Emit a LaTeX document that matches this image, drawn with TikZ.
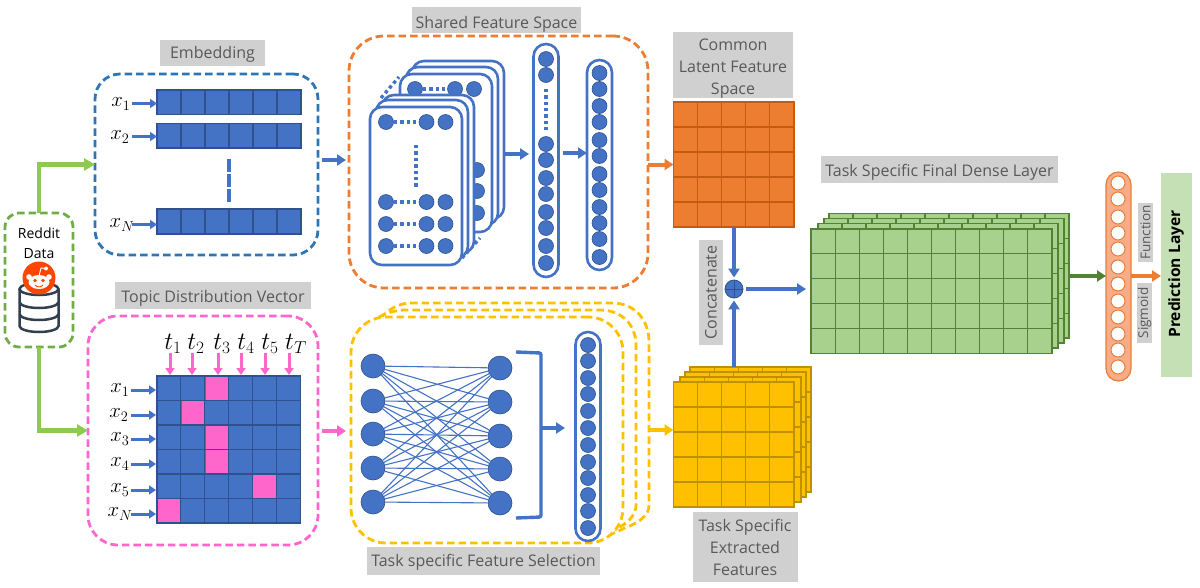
\documentclass[tikz,border=0pt]{standalone}
\usepackage{fontspec}
\setmainfont{Open Sans}
\usetikzlibrary{arrows.meta,calc}
\definecolor{blockblue}{HTML}{4472C4}
\definecolor{blockline}{HTML}{2F528F}
\definecolor{panelblue}{HTML}{2E75B6}
\definecolor{panelpink}{HTML}{FF66CC}
\definecolor{panelgreen}{HTML}{70AD47}
\definecolor{linkgreen}{HTML}{8CCB4F}
\definecolor{darkgreen}{HTML}{548235}
\definecolor{sheetgreen}{HTML}{A9D18E}
\definecolor{predgreen}{HTML}{C5E0B4}
\definecolor{sheetorange}{HTML}{ED7D31}
\definecolor{lineorange}{HTML}{C55A11}
\definecolor{pillorange}{HTML}{F7AD8A}
\definecolor{sheetyellow}{HTML}{FFC000}
\definecolor{lineyellow}{HTML}{BF9000}
\definecolor{taggray}{HTML}{D0D0D0}
\definecolor{tagtext}{HTML}{595959}
\definecolor{dbdark}{HTML}{333F50}
\definecolor{redditred}{HTML}{FF4500}
\tikzset{
  tag/.style={fill=taggray, text=tagtext, inner sep=0pt, align=center, font=\fontsize{16}{22}\selectfont},
  panel/.style={draw=#1, line width=2.8pt, dash pattern=on 7.5pt off 4pt, inner sep=0pt, outer sep=0pt},
  linkarrow/.style={draw=#1, line width=4.5pt, -{Triangle[length=11pt,width=12pt]}},
  midarrow/.style={draw=#1, line width=4pt, -{Triangle[length=9pt,width=11pt]}},
  smallarrow/.style={draw=#1, line width=3pt, -{Triangle[length=7pt,width=9pt]}},
  mathlabel/.style={inner sep=0pt, font=\fontsize{22}{24}\selectfont},
  pill/.style={draw=blockblue, fill=white, line width=2.6pt, rounded corners=12.5pt, minimum width=25pt, inner sep=0pt, outer sep=0pt},
  unit/.style={circle, fill=blockblue, draw=blockline, line width=0.6pt, minimum size=15pt, inner sep=0pt},
  bigunit/.style={circle, fill=blockblue, draw=blockline, line width=0.6pt, minimum size=24pt, inner sep=0pt},
  sigunit/.style={circle, fill=white, draw=sheetorange, line width=1pt, minimum size=14pt, inner sep=0pt},
  featcard/.style={draw=blockblue, fill=white, line width=2.6pt, rounded corners=12pt, minimum width=92pt, minimum height=158pt, anchor=north west, inner sep=0pt, outer sep=0pt},
  dotline/.style={draw=blockblue, line width=3.4pt, dash pattern=on 3.4pt off 3pt},
  bluegrid/.style={fill=blockblue, draw=blockline, line width=1.1pt},
  orangegrid/.style={fill=sheetorange, draw=lineorange, line width=1.1pt},
  yellowgrid/.style={fill=sheetyellow, draw=lineyellow, line width=1.1pt},
  greengrid/.style={fill=sheetgreen, draw=darkgreen, line width=1.1pt},
}
% name, left, top, width, height, columns, rows, style
\newcommand{\gridblock}[8]{
  \node[#8, anchor=north west, minimum width=#4pt, minimum height=#5pt, inner sep=0pt, outer sep=0pt] (#1) at (#2,#3) {};
  \pgfmathtruncatemacro{\nc}{#6-1}
  \pgfmathtruncatemacro{\nr}{#7-1}
  \foreach \k in {1,...,\nc}
    \draw[#8] ($(#1.north west)!\k/#6!(#1.north east)$) -- ($(#1.south west)!\k/#6!(#1.south east)$);
  \ifnum#7>1
  \foreach \k in {1,...,\nr}
    \draw[#8] ($(#1.north west)!\k/#7!(#1.south west)$) -- ($(#1.north east)!\k/#7!(#1.south east)$);
  \fi
}
\begin{document}
\begin{tikzpicture}[x=1pt,y=-1pt]
\useasboundingbox (0,0) rectangle (1200,587);

% reddit data
\node[panel=panelgreen, rounded corners=14pt, minimum width=68pt, minimum height=134pt] (reddit) at (39,280) {};
\node[inner sep=0pt, font=\fontsize{14}{19.5}\selectfont, align=center] (reddittext) at (39,243) {Reddit\\Data};
\draw[dbdark, line width=2.5pt] (39,289) ellipse [x radius=19.5pt, y radius=6pt];
\draw[dbdark, line width=2.5pt] (19.5,289) -- (19.5,326) arc[start angle=180, end angle=360, x radius=19.5pt, y radius=6pt] -- (58.5,289);
\draw[dbdark, line width=2.5pt] (19.5,302) arc[start angle=180, end angle=360, x radius=19.5pt, y radius=6pt];
\draw[dbdark, line width=2.5pt] (19.5,314) arc[start angle=180, end angle=360, x radius=19.5pt, y radius=6pt];
\fill[redditred] (39,278) circle (16.5pt);
\fill[white] (39,282) ellipse [x radius=10.5pt, y radius=7pt];
\fill[white] (29,277) circle (2.8pt);
\fill[white] (49,277) circle (2.8pt);
\fill[white] (46,268.5) circle (2pt);
\draw[white, line width=0.9pt] (39,276) -- (41,268) -- (46,268.5);
\fill[redditred] (35,280.5) circle (1.8pt);
\fill[redditred] (43,280.5) circle (1.8pt);
\draw[redditred, line width=0.9pt] (35,285) .. controls (37,287.5) and (41,287.5) .. (43,285);

% embedding
\node[tag, minimum width=105pt, minimum height=26pt] (embedtag) at (212.5,53) {\rule{0pt}{14pt}Embedding};
\node[panel=panelblue, rounded corners=25pt, minimum width=223pt, minimum height=181pt] (embedbox) at (206.5,164.5) {};
\gridblock{rowa}{157}{90}{144}{24.5}{6}{1}{bluegrid}
\gridblock{rowb}{157}{123.5}{144}{24.5}{6}{1}{bluegrid}
\gridblock{rowc}{157}{209}{144}{25}{6}{1}{bluegrid}
\draw[blockblue, line width=3.6pt, dash pattern=on 13pt off 2pt] (229,159) -- (229,202);
\node[mathlabel] (xa) at (121,104) {$x_1$};
\node[mathlabel] (xb) at (120,137) {$x_2$};
\node[mathlabel] (xc) at (122,225) {$x_N$};
\coordinate (xaout) at (132,103.5);
\coordinate (xbout) at (132,136.5);
\coordinate (xcout) at (132,224.5);
\draw[smallarrow=blockblue] (xaout) -- (xaout -| rowa.west);
\draw[smallarrow=blockblue] (xbout) -- (xbout -| rowb.west);
\draw[smallarrow=blockblue] (xcout) -- (xcout -| rowc.west);

% topic distribution vector
\node[tag, minimum width=196pt, minimum height=27pt] (topictag) at (213,295.5) {\rule{0pt}{18pt}Topic Distribution Vector};
\node[panel=panelpink, rounded corners=30pt, minimum width=230pt, minimum height=229pt] (topicbox) at (203,430.5) {};
\gridblock{topicgrid}{157}{376}{143.5}{147}{6}{6}{bluegrid}
\foreach \r/\c in {0/2,1/1,2/2,3/2,4/4,5/0}
  \fill[panelpink] ({157.8+\c*23.9},{376.8+\r*24.5}) rectangle ++(22.4,23);
\foreach \i/\ty/\tx/\lab in {1/390/120/x_1,2/415/119/x_2,3/439/120/x_3,4/464/120/x_4,5/490/120/x_5,6/514/120/x_N} {
  \node[mathlabel] (xt\i) at (\tx,\ty) {$\lab$};
  \coordinate (xtout\i) at (131,\ty);
  \coordinate (xtin\i) at (156,\ty);
  \draw[smallarrow=blockblue] (xtout\i) -- (xtin\i);
}
\foreach \i/\lx/\ax/\lab in {1/173/170/t_1,2/196/192/t_2,3/222/218/t_3,4/246/241/t_4,5/270/265/t_5,6/296/289/t_T} {
  \node[mathlabel, font=\fontsize{23}{24}\selectfont] (tt\i) at (\lx,344) {$\lab$};
  \coordinate (ttout\i) at (\ax,353);
  \coordinate (ttin\i) at (\ax,375);
  \draw[smallarrow=panelpink] (ttout\i) -- (ttin\i);
}

% links from the data
\draw[linkarrow=linkgreen] (reddit.north) |- (embedbox.west);
\draw[linkarrow=linkgreen] (reddit.south) |- (topicbox.west);

% shared feature space
\node[tag, minimum width=169pt, minimum height=26pt] (sharedtag) at (496.5,20) {\rule{0pt}{21pt}Shared Feature Space};
\node[panel=sheetorange, rounded corners=35pt, minimum width=299pt, minimum height=252pt] (sharedbox) at (498.5,162) {};
\foreach \n/\x/\y in {c/412/61,b/406/67,a/400/74}
  \node[featcard] (back\n) at (\x,\y) {};
\node[unit] (backr1) at (415,89) {};
\node[unit] (backr2) at (455,89) {};
\node[unit] (backr3) at (474,89) {};
\draw[dotline] (backr1) -- (backr2);
\node[unit] (backs1) at (477,170) {};
\node[unit] (backs2) at (477,191) {};
\node[unit] (backs3) at (477,213) {};
\coordinate (dotsa) at (381,98);
\coordinate (dotsb) at (399,77);
\coordinate (dotsc) at (462,258);
\coordinate (dotsd) at (480,238);
\draw[dotline] (dotsa) -- (dotsb);
\draw[dotline] (dotsc) -- (dotsd);
\foreach \n/\x/\y in {c/382/95,b/376/100,a/370/107}
  \node[featcard] (front\n) at (\x,\y) {};
\foreach \r/\ry in {1/122,2/202,3/224,4/246} {
  \node[unit] (fr\r a) at (386,\ry) {};
  \node[unit] (fr\r b) at (426.5,\ry) {};
  \node[unit] (fr\r c) at (445.5,\ry) {};
  \draw[dotline] (fr\r a) -- (fr\r b);
}
\coordinate (dotse) at (416,145);
\coordinate (dotsf) at (416,188);
\draw[dotline] (dotse) -- (dotsf);

\node[pill, minimum height=233pt] (vecone) at (546,160.5) {};
\foreach \i/\uy in {1/59,2/75,3/144,4/160,5/178,6/194,7/212,8/228,9/246,10/263}
  \node[unit] (vo\i) at (546,\uy) {};
\draw[dotline, shorten <=6pt, shorten >=6pt] (vo2) -- (vo3);
\node[pill, minimum height=210pt] (vectwo) at (599.5,165) {};
\foreach \i/\uy in {1/73,2/89,3/106,4/122,5/140,6/156,7/174,8/190,9/207,10/223,11/239,12/257}
  \node[unit] (vt\i) at (599.5,\uy) {};
\coordinate (cardout) at (505,154);
\coordinate (vecin) at (529,154);
\draw[midarrow=blockblue] (cardout) -- (vecin);
\coordinate (vecout) at (563,153);
\draw[midarrow=blockblue] (vecout) -- (vecout -| vectwo.west);
\coordinate (embedout) at (322,160);
\coordinate (sharedin) at (346,160);
\draw[midarrow=blockblue] (embedout) -- (sharedin);

% task specific feature selection
\draw[panel=sheetyellow] (380,318) .. controls (390,309) and (398,303) .. (412,303) -- (612,303) .. controls (635,303) and (649,320) .. (649,342) -- (649,505) .. controls (649,515) and (640,522) .. (627,527) -- (603,538);
\draw[panel=sheetyellow] (379,317) .. controls (386,313) and (396,310) .. (405,310) -- (600,310) .. controls (622,310) and (636,325) .. (636,345) -- (636,505) .. controls (636,515) and (628,524) .. (612,531);
\node[panel=sheetyellow, fill=white, rounded corners=35pt, minimum width=272pt, minimum height=226pt] (selectbox) at (487,430) {};
\foreach \i/\uy in {1/366,2/401,3/434,4/468,5/502}
  \node[bigunit] (netl\i) at (373,\uy) {};
\foreach \i/\uy in {1/368,2/402,3/436,4/469,5/503}
  \node[bigunit] (netr\i) at (500,\uy) {};
\foreach \a in {1,...,5}
  \foreach \b in {1,...,5}
    \draw[blockblue, line width=1.1pt] (netl\a) -- (netr\b);
\coordinate (brka) at (516,352);
\coordinate (brkb) at (541,353);
\coordinate (brkc) at (541,517);
\coordinate (brkd) at (516,518);
\draw[blockblue, line width=3.4pt, rounded corners=2pt] (brka) -- (brkb) -- (brkc) -- (brkd);
\node[pill, minimum height=209pt] (vecsel) at (588,436.5) {};
\foreach \i/\uy in {1/345,2/361,3/378,4/394,5/411,6/428,7/445,8/462,9/478,10/495,11/511,12/528}
  \node[unit] (vs\i) at (588,\uy) {};
\coordinate (brkout) at (541,428);
\coordinate (vecselin) at (565,428);
\draw[midarrow=blockblue] (brkout) -- (vecselin);
\node[tag, minimum width=233pt, minimum height=28pt] (selecttag) at (483.5,561) {\rule{0pt}{14pt}Task specific Feature Selection};
\coordinate (topicout) at (322,431);
\coordinate (selectin) at (346,431);
\draw[midarrow=panelpink] (topicout) -- (selectin);

% common latent feature space
\node[tag, minimum width=120pt, minimum height=64pt] (latenttag) at (733,65) {\rule{0pt}{19pt}Common\\Latent Feature\\Space};
\gridblock{latentgrid}{673.5}{102}{120.5}{125}{5}{5}{orangegrid}
\coordinate (sharedout) at (648,164.5);
\draw[midarrow=sheetorange] (sharedout) -- (latentgrid.west);

% task specific extracted features
\gridblock{yellowc}{690}{367}{121}{125}{5}{5}{yellowgrid}
\gridblock{yellowb}{685}{372}{121}{125}{5}{5}{yellowgrid}
\gridblock{yellowa}{680}{377}{121}{125}{5}{5}{yellowgrid}
\gridblock{yellowgrid}{673.5}{382}{120.5}{125}{5}{5}{yellowgrid}
\node[tag, minimum width=105pt, minimum height=70pt] (yellowtag) at (745,547) {Task Specific\\Extracted\\Features};
\coordinate (selectout) at (650,430);
\draw[midarrow=sheetyellow] (selectout) -- (selectout -| yellowgrid.west);

% concatenate
\node[tag, rotate=90, minimum width=105pt, minimum height=24pt] (concattag) at (711,292.5) {Concatenate};
\node[circle, fill=blockblue, draw=blockline, line width=0.8pt, minimum size=18pt, inner sep=0pt] (concat) at (734,289) {};
\draw[blockline, line width=0.7pt] (concat.north) -- (concat.south);
\draw[blockline, line width=0.7pt] (concat.west) -- (concat.east);
\draw[midarrow=blockblue, shorten >=2pt] (latentgrid.south -| concat) -- (concat.north);
\coordinate (yellowout) at (734,367);
\draw[midarrow=blockblue, shorten >=2pt] (yellowout) -- (concat.south);

% task specific final dense layer
\node[tag, minimum width=237pt, minimum height=27pt] (densetag) at (939.5,169.5) {\rule{0pt}{17pt}Task Specific Final Dense Layer};
\gridblock{densec}{829}{213.5}{240}{124.5}{10}{5}{greengrid}
\gridblock{denseb}{824}{218.5}{240}{124.5}{10}{5}{greengrid}
\gridblock{densea}{818}{223.5}{240}{124.5}{10}{5}{greengrid}
\gridblock{densegrid}{811}{229}{241}{124.5}{10}{5}{greengrid}
\draw[midarrow=blockblue, shorten <=3pt, shorten >=5pt] (concat.east) -- (concat.east -| densegrid.west);

% prediction layer
\node[draw=sheetorange, fill=pillorange, line width=1.2pt, rounded corners=12.5pt, minimum width=25pt, minimum height=209pt, inner sep=0pt, outer sep=0pt] (sigpill) at (1118.5,276.5) {};
\foreach \i/\uy in {1/183,2/199,3/217,4/233,5/249,6/267,7/284,8/301,9/317,10/334,11/350,12/367}
  \node[sigunit] (su\i) at (1118,\uy) {};
\coordinate (denseout) at (1070,276);
\draw[midarrow=darkgreen] (denseout) -- (denseout -| sigpill.west);
\node[fill=predgreen, minimum width=31pt, minimum height=204pt, inner sep=0pt, outer sep=0pt] (predlayer) at (1176.5,275) {};
\node[rotate=90, inner sep=0pt, font=\fontsize{15.6}{18}\bfseries\selectfont] (predtext) at (1176,274) {Prediction Layer};
\draw[midarrow=sheetorange] (sigpill.east |- denseout) -- (denseout -| predlayer.west);
\node[tag, rotate=90, minimum width=59pt, minimum height=15pt, font=\fontsize{13.5}{15}\selectfont] (functag) at (1145.5,232.5) {Function};
\node[tag, rotate=90, minimum width=60pt, minimum height=15pt, font=\fontsize{13.5}{15}\selectfont] (sigtag) at (1144.5,313) {Sigmoid};

\end{tikzpicture}
\end{document}
